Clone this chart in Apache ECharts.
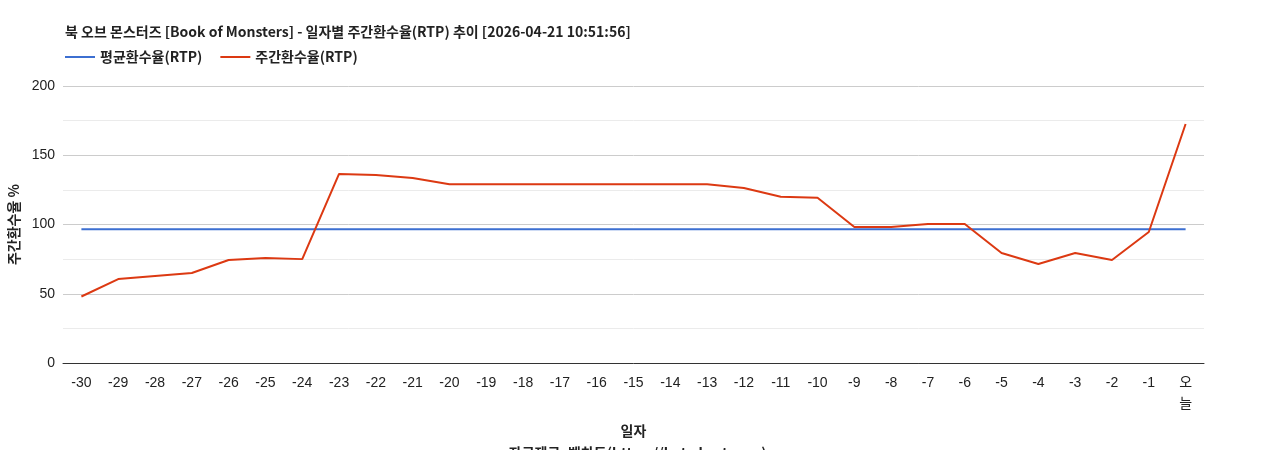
<!DOCTYPE html>
<html><head><meta charset="utf-8">
<script src="https://cdn.jsdelivr.net/npm/echarts@6/dist/echarts.min.js"></script>
<style>body{margin:0}#c{width:1268px;height:450px}</style>
</head><body><div id="c"></div>
<script>
// 일자별 주간환수율 데이터
var days = ['-30','-29','-28','-27','-26','-25','-24','-23','-22','-21','-20','-19','-18','-17','-16','-15','-14','-13','-12','-11','-10','-9','-8','-7','-6','-5','-4','-3','-2','-1','오\n늘'];
var weekly = [48,60.6,62.8,65,74.4,75.8,75,136.5,135.7,133.6,129,129,129,129,129,129,129,129,126.4,120,119.3,98.2,98.2,100.4,100.4,79.4,71.5,79.4,74.4,94.6,172.6];
var avgRtp = 96.5;
var avg = days.map(function(){ return avgRtp; });

var myChart = echarts.init(document.getElementById('c'));
var font = '"Liberation Sans", "Noto Sans CJK KR", sans-serif';
option = {
    textStyle: {fontFamily: font},
    title: {
        text: '북 오브 몬스터즈 [Book of Monsters] - 일자별 주간환수율(RTP) 추이 [2026-04-21 10:51:56]',
        left: 60, top: 20,
        textStyle: {fontSize: 14, fontWeight: 'bold', color: '#222', fontFamily: '"Noto Sans CJK KR"'}
    },
    legend: {
        left: 60, top: 45, itemWidth: 30, itemHeight: 2, itemGap: 18,
        icon: 'rect',
        textStyle: {fontSize: 14, fontWeight: 'bold', color: '#222', fontFamily: '"Noto Sans CJK KR"'},
        data: ['평균환수율(RTP)', '주간환수율(RTP)']
    },
    grid: {left: 63, right: 64, top: 86, bottom: 87, outerBoundsMode: 'none', containLabel: false},
    xAxis: {
        type: 'category', data: days,
        name: '일자\n- 자료제공: 벳차트(https://bet-chart.com)',
        nameLocation: 'middle', nameGap: 52,
        nameTextStyle: {fontSize: 14, fontWeight: 'bold', color: '#222', lineHeight: 22, fontFamily: '"Noto Sans CJK KR"'},
        axisLine: {lineStyle: {color: '#333'}},
        axisTick: {show: false},
        axisLabel: {color: '#222', fontSize: 14, interval: 0, margin: 10, lineHeight: 21}
    },
    yAxis: {
        type: 'value', min: 0, max: 200, interval: 25,
        name: '주간환수율 %', nameLocation: 'middle', nameGap: 36,
        nameTextStyle: {fontSize: 14, fontWeight: 'bold', color: '#222', fontFamily: '"Noto Sans CJK KR"'},
        axisLabel: {color: '#222', fontSize: 14, formatter: function(v){ return v % 50 === 0 ? v : ''; }},
        splitLine: {lineStyle: {color: ['#cccccc', '#ebebeb']}}
    },
    series: [
        {name: '평균환수율(RTP)', type: 'line', data: avg, symbol: 'none',
         lineStyle: {width: 2, color: '#3c6fd1'}, itemStyle: {color: '#3c6fd1'}},
        {name: '주간환수율(RTP)', type: 'line', data: weekly, symbol: 'none',
         lineStyle: {width: 2, color: '#dc3912'}, itemStyle: {color: '#dc3912'}}
    ]
};
myChart.setOption(option);
</script></body></html>
